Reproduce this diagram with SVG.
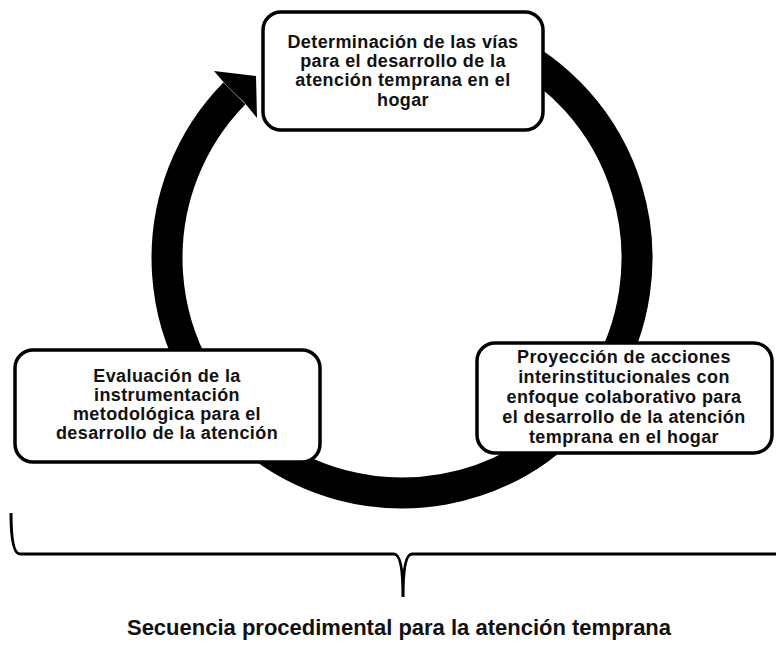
<svg xmlns="http://www.w3.org/2000/svg" width="776" height="645" viewBox="0 0 776 645">
<style>
.box{fill:#fff;stroke:#000;stroke-width:3.5}
.t{font-family:"Liberation Sans",Arial,sans-serif;font-weight:bold;font-size:18px;letter-spacing:0.4px;fill:#111;text-anchor:middle}
.cap{font-family:"Liberation Sans",Arial,sans-serif;font-weight:bold;font-size:22px;fill:#111;text-anchor:middle}
</style>
<rect width="776" height="645" fill="#fff"/>
<g id="connectors">
<path d="M 501.3 45.0 A 235 235 0 1 1 234.4 93.3" fill="none" stroke="#000" stroke-width="31"/>
<polygon points="226,85 214,71 256,76 257,118 244,102" fill="#000"/>
</g>
<g id="node-top">
<rect class="box" x="263" y="12" width="280" height="118" rx="18"/>
<text class="t" x="403" y="48">Determinación de las vías</text>
<text class="t" x="403" y="67">para el desarrollo de la</text>
<text class="t" x="403" y="86">atención temprana en el</text>
<text class="t" x="403" y="106">hogar</text>
</g>
<g id="node-left">
<rect class="box" x="15" y="350" width="305" height="112" rx="18"/>
<text class="t" x="167" y="382">Evaluación de la</text>
<text class="t" x="167" y="401">instrumentación</text>
<text class="t" x="167" y="420">metodológica para el</text>
<text class="t" x="167" y="439">desarrollo de la atención</text>
</g>
<g id="node-right">
<rect class="box" x="477" y="343" width="295" height="110" rx="18"/>
<text class="t" x="624" y="363">Proyección de acciones</text>
<text class="t" x="624" y="383">interinstitucionales con</text>
<text class="t" x="624" y="403">enfoque colaborativo para</text>
<text class="t" x="624" y="423">el desarrollo de la atención</text>
<text class="t" x="624" y="443">temprana en el hogar</text>
</g>
<g id="brace">
<path d="M 11 513 Q 11 554 20 554 L 394 554 Q 403 554 403 597 Q 403 554 412 554 L 776 554" fill="none" stroke="#000" stroke-width="3"/>
</g>
<text class="cap" x="399" y="635">Secuencia procedimental para la atención temprana</text>
</svg>
